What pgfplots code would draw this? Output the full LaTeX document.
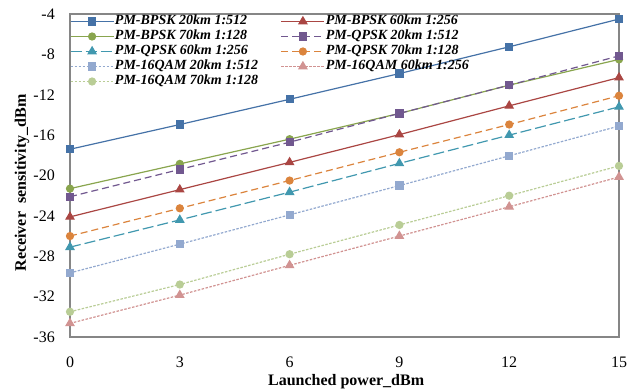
\documentclass[border=0pt]{standalone}
\usepackage{fontspec}
\setmainfont{Liberation Serif}
\usepackage{pgfplots}
\pgfplotsset{compat=1.18}
\definecolor{c1}{HTML}{4572A7}
\definecolor{c2}{HTML}{AA4643}
\definecolor{c3}{HTML}{89A54E}
\definecolor{c4}{HTML}{71588F}
\definecolor{c5}{HTML}{4198AF}
\definecolor{c6}{HTML}{DB843D}
\definecolor{c7}{HTML}{93A9CF}
\definecolor{c8}{HTML}{D19392}
\definecolor{c9}{HTML}{B9CD96}
\definecolor{axgray}{HTML}{868686}
\begin{document}
\begin{tikzpicture}
\begin{axis}[
  scale only axis,
  width=549bp, height=323bp,
  xmin=0, xmax=15, ymin=-36, ymax=-4,
  xtick={0,3,6,9,12,15},
  ytick={-36,-32,-28,-24,-20,-16,-12,-8,-4},
  major tick length=0pt,
  axis line style={draw=axgray, line width=1.2bp},
  /pgf/number format/assume math mode=true,
  ticklabel style={font=\fontsize{16bp}{18bp}\selectfont},
  xticklabel style={inner sep=0bp, yshift=-19.5bp},
  yticklabel style={inner sep=0bp, xshift=-15bp},
  xlabel={\textbf{Launched power\_dBm}},
  ylabel={\textbf{Receiver\hspace{0.5em}sensitivity\_dBm}},
  label style={font=\fontsize{16bp}{18bp}\selectfont},
  xlabel style={at={(rel axis cs:0.503,-0.1145)}, anchor=north, inner sep=0bp},
  ylabel style={at={(rel axis cs:-0.0874,0.477)}, anchor=center},
  clip=false,
  legend columns=2,
  legend cell align=left,
  legend style={at={(rel axis cs:0,1)}, anchor=north west, draw=none, fill=none,
    inner sep=0pt, outer sep=0pt,
    font=\fontsize{14bp}{14.5bp}\selectfont\bfseries\itshape,
    nodes={inner sep=0.75bp, text height=10bp, text depth=3.5bp},
    /tikz/every even column/.append style={column sep=22bp}},
  legend image code/.code={
    \draw[mark repeat=2,mark phase=2,#1] plot coordinates {(0bp,0bp) (21.5bp,0bp) (43bp,0bp)};
  },
  every axis plot/.append style={line width=1.2bp},
]
\addplot[c1, mark=square*, mark size=3.5bp, mark options={solid, fill=c1}] coordinates {(0,-17.4) (3,-14.95) (6,-12.45) (9,-9.9) (12,-7.25) (15,-4.5)};
\addlegendentry{PM-BPSK 20km 1:512}
\addplot[c2, mark=triangle*, mark size=4.5bp, mark options={solid, fill=c2}] coordinates {(0,-24.1) (3,-21.4) (6,-18.7) (9,-15.95) (12,-13.1) (15,-10.3)};
\addlegendentry{PM-BPSK 60km 1:256}
\addplot[c3, mark=*, mark size=3.5bp, mark options={solid, fill=c3}] coordinates {(0,-21.3) (3,-18.85) (6,-16.4) (9,-13.85) (12,-11.05) (15,-8.5)};
\addlegendentry{PM-BPSK 70km 1:128}
\addplot[c4, dash pattern=on 7bp off 4bp, mark=square*, mark size=3.5bp, mark options={solid, fill=c4}] coordinates {(0,-22.1) (3,-19.4) (6,-16.7) (9,-13.85) (12,-11.05) (15,-8.15)};
\addlegendentry{PM-QPSK 20km 1:512}
\addplot[c5, dash pattern=on 11bp off 4bp, mark=triangle*, mark size=4.5bp, mark options={solid, fill=c5}] coordinates {(0,-27.1) (3,-24.4) (6,-21.65) (9,-18.8) (12,-16.0) (15,-13.2)};
\addlegendentry{PM-QPSK 60km 1:256}
\addplot[c6, dash pattern=on 7bp off 4bp, mark=*, mark size=3.5bp, mark options={solid, fill=c6}] coordinates {(0,-26.0) (3,-23.25) (6,-20.5) (9,-17.7) (12,-14.95) (15,-12.1)};
\addlegendentry{PM-QPSK 70km 1:128}
\addplot[c7, dash pattern=on 2.5bp off 1.5bp, mark=square*, mark size=3.5bp, mark options={solid, fill=c7}] coordinates {(0,-29.65) (3,-26.8) (6,-23.9) (9,-21.0) (12,-18.05) (15,-15.1)};
\addlegendentry{PM-16QAM 20km 1:512}
\addplot[c8, dash pattern=on 2.5bp off 1.5bp, mark=triangle*, mark size=4.5bp, mark options={solid, fill=c8}] coordinates {(0,-34.65) (3,-31.85) (6,-28.9) (9,-26.0) (12,-23.1) (15,-20.15)};
\addlegendentry{PM-16QAM 60km 1:256}
\addplot[c9, dash pattern=on 2.5bp off 1.5bp, mark=*, mark size=3.5bp, mark options={solid, fill=c9}] coordinates {(0,-33.5) (3,-30.8) (6,-27.8) (9,-24.9) (12,-22.0) (15,-19.05)};
\addlegendentry{PM-16QAM 70km 1:128}
\coordinate (sw) at (rel axis cs:0,0);
\coordinate (ne) at (rel axis cs:1,1);
\end{axis}
\pgfresetboundingbox
\path ([shift={(-70bp,-53bp)}]sw) rectangle ([shift={(22bp,14bp)}]ne);
\end{tikzpicture}
\end{document}
